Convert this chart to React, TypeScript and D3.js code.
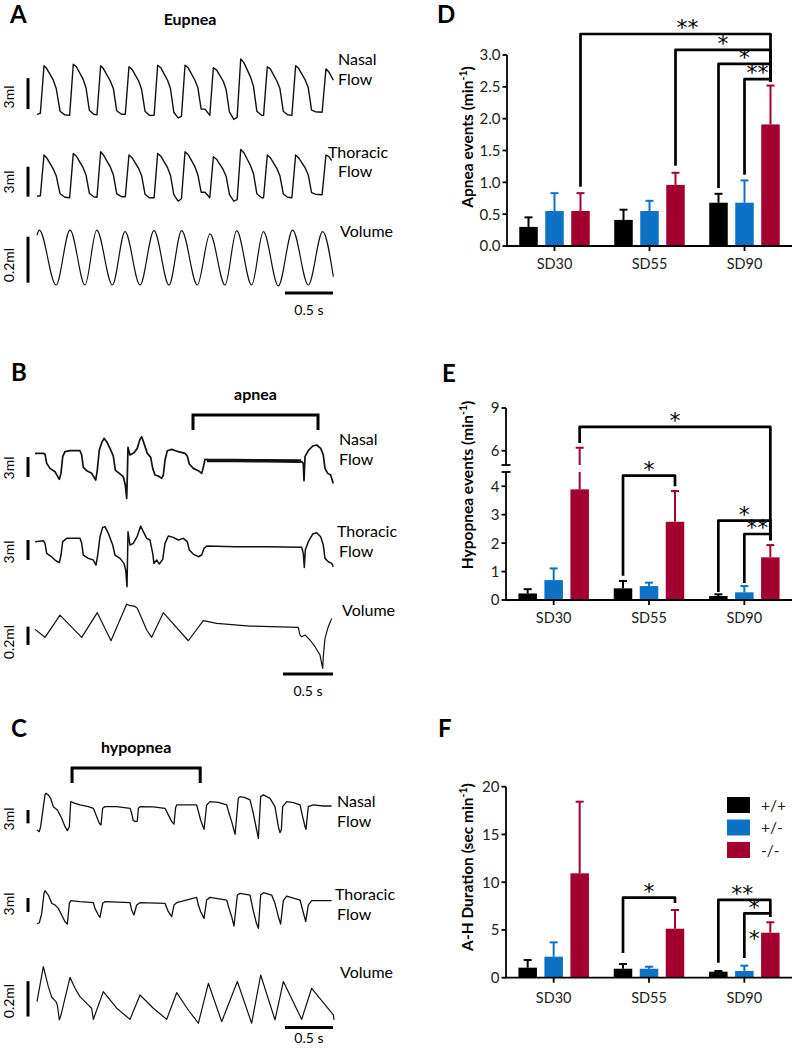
import React from 'react';
import * as d3 from 'd3';

type Pt = [number, number];
const FONT = 'Lato, "Open Sans", "DejaVu Sans", sans-serif';
const STAR_FONT = '"DejaVu Sans", Lato, sans-serif';
const INK = '#111111';
const RIGHT = 792;

// ---------------- bar chart data ----------------
const categories = ['SD30', 'SD55', 'SD90'];
const genotypes = ['+/+', '+/-', '-/-'];
const genotypeColors = ['#000000', '#0b72c6', '#a4002f'];

// [category][genotype]
const apneaMean = [
  [0.30, 0.55, 0.55],
  [0.41, 0.55, 0.96],
  [0.68, 0.68, 1.91],
];
const apneaSem = [
  [0.15, 0.28, 0.28],
  [0.16, 0.16, 0.19],
  [0.14, 0.35, 0.61],
];
const hypopneaMean = [
  [0.23, 0.70, 3.89],
  [0.41, 0.49, 2.75],
  [0.14, 0.27, 1.50],
];
const hypopneaSem = [
  [0.15, 0.41, 2.32],
  [0.26, 0.12, 1.08],
  [0.06, 0.22, 0.43],
];
const durationMean = [
  [1.05, 2.2, 10.93],
  [0.94, 0.94, 5.13],
  [0.63, 0.70, 4.71],
];
const durationSem = [
  [0.8, 1.5, 7.5],
  [0.49, 0.21, 1.96],
  [0.07, 0.56, 1.09],
];

const apneaTicks = [0, 0.5, 1, 1.5, 2, 2.5, 3];
const hypopneaTicks = [0, 1, 2, 3, 4, 6, 9];
const durationTicks = [0, 5, 10, 15, 20];

interface Bracket { from: [number, number]; to: [number, number]; level: number; leftEnd: number; rightEnd: number; label: string; }

const apneaBrackets: Bracket[] = [
  { from: [0, 2], to: [2, 2], level: 3.33, leftEnd: 0.93, rightEnd: 2.58, label: '**' },
  { from: [1, 2], to: [2, 2], level: 3.08, leftEnd: 1.26, rightEnd: 2.58, label: '*' },
  { from: [2, 0], to: [2, 2], level: 2.86, leftEnd: 0.91, rightEnd: 2.58, label: '*' },
  { from: [2, 1], to: [2, 2], level: 2.62, leftEnd: 1.12, rightEnd: 2.58, label: '**' },
];
const hypopneaBrackets: Bracket[] = [
  { from: [0, 2], to: [2, 2], level: 7.67, leftEnd: 6.54, rightEnd: 2.1, label: '*' },
  { from: [1, 0], to: [1, 2], level: 4.37, leftEnd: 0.85, rightEnd: 4.0, label: '*' },
  { from: [2, 0], to: [2, 2], level: 2.79, leftEnd: 0.28, rightEnd: 2.1, label: '*' },
  { from: [2, 1], to: [2, 2], level: 2.32, leftEnd: 0.6, rightEnd: 2.1, label: '**' },
];
const durationBrackets: Bracket[] = [
  { from: [1, 0], to: [1, 2], level: 8.38, leftEnd: 2.59, rightEnd: 7.82, label: '*' },
  { from: [2, 0], to: [2, 2], level: 8.14, leftEnd: 1.57, rightEnd: 6.77, label: '**' },
  { from: [2, 1], to: [2, 2], level: 6.74, leftEnd: 2.06, rightEnd: 6.36, label: '*' },
];
// lone significance mark next to the SD90 -/- bar in F: [category, genotype, value, label]
const durationMarks: [number, number, number, string][] = [[2, 2, 4.2, '*']];

// ---------------- trace data (time s, value) ----------------
const eupneaNasal: Pt[] = [
  [0.0, 0.0],
  [0.035, 0.1], [0.073, 4.7], [0.10, 4.45], [0.17, 3.3], [0.20, 2.5], [0.24, 0.3], [0.29, -0.05],
  [0.34, -0.1], [0.378, 4.85], [0.41, 4.6], [0.48, 3.4], [0.51, 2.6], [0.545, 0.4], [0.59, 0.0],
  [0.625, -0.05], [0.663, 4.7], [0.69, 4.45], [0.765, 3.2], [0.795, 2.5], [0.83, 0.35], [0.88, 0.0],
  [0.92, 0.0], [0.958, 4.6], [0.99, 4.35], [1.06, 3.2], [1.09, 2.4], [1.125, 0.3], [1.17, -0.1],
  [1.22, -0.1], [1.257, 4.75], [1.29, 4.5], [1.36, 3.3], [1.39, 2.5], [1.425, 0.2], [1.47, -0.35],
  [1.505, -0.2], [1.542, 4.75], [1.575, 4.5], [1.645, 3.3], [1.675, 2.6], [1.71, 0.5], [1.75, 0.5],
  [1.80, -0.1], [1.837, 4.5], [1.87, 4.3], [1.94, 3.2], [1.97, 2.4], [2.005, 0.2], [2.05, -0.5],
  [2.085, -0.3], [2.122, 5.35], [2.155, 5.0], [2.225, 3.6], [2.255, 2.7], [2.29, 0.3], [2.34, -0.1],
  [2.36, -0.1], [2.399, 4.6], [2.43, 4.4], [2.50, 3.2], [2.53, 2.5], [2.565, 0.3], [2.61, -0.05],
  [2.655, -0.1], [2.694, 4.7], [2.725, 4.45], [2.795, 3.3], [2.825, 2.6], [2.86, 0.4], [2.90, 0.25],
  [2.97, 0.2], [3.01, 4.4], [3.04, 4.1], [3.087, 3.3],
];
const eupneaThoracic: Pt[] = [
  [0.0, 0.05],
  [0.035, 0.1], [0.073, 4.17], [0.10, 3.9], [0.17, 2.75], [0.20, 2.1], [0.24, 0.3], [0.29, -0.05],
  [0.34, -0.1], [0.378, 4.33], [0.41, 4.05], [0.48, 2.9], [0.51, 2.2], [0.545, 0.35], [0.59, 0.0],
  [0.625, -0.05], [0.663, 4.5], [0.69, 4.2], [0.765, 2.95], [0.795, 2.2], [0.83, 0.3], [0.88, 0.0],
  [0.92, 0.0], [0.958, 4.17], [0.99, 3.9], [1.06, 2.8], [1.09, 2.1], [1.125, 0.25], [1.17, -0.1],
  [1.22, -0.1], [1.257, 4.33], [1.29, 4.05], [1.36, 2.9], [1.39, 2.15], [1.425, 0.2], [1.47, -0.45],
  [1.505, -0.2], [1.542, 4.5], [1.575, 4.2], [1.645, 3.0], [1.675, 2.2], [1.71, 0.45], [1.75, 0.45],
  [1.80, -0.1], [1.837, 4.0], [1.87, 3.75], [1.94, 2.7], [1.97, 2.05], [2.005, 0.2], [2.05, -0.45],
  [2.085, -0.3], [2.122, 4.73], [2.155, 4.4], [2.225, 3.1], [2.255, 2.3], [2.29, 0.3], [2.34, -0.1],
  [2.36, -0.1], [2.399, 4.17], [2.43, 3.9], [2.50, 2.8], [2.53, 2.1], [2.565, 0.3], [2.61, -0.05],
  [2.655, -0.1], [2.694, 4.17], [2.725, 3.9], [2.795, 2.85], [2.825, 2.2], [2.86, 0.4], [2.90, 0.25],
  [2.97, 0.2], [3.01, 4.17], [3.04, 4.0], [3.07, 3.6],
];
const eupneaVolume: Pt[] = [
  [0, 0.217], [0.024, 0.239], [0.198, 0], [0.344, 0.239], [0.5, 0], [0.622, 0.239], [0.785, 0],
  [0.917, 0.232], [1.073, 0], [1.219, 0.236], [1.375, 0], [1.507, 0.236], [1.670, 0], [1.802, 0.222],
  [1.958, 0], [2.080, 0.236], [2.236, 0], [2.358, 0.232], [2.514, -0.004], [2.663, 0.239], [2.826, 0],
  [2.976, 0.232], [3.087, 0.036],
];

const apneaNasal: Pt[] = [
  [0, 1.1], [0.083, 1.1], [0.1, 1.0], [0.117, -0.4], [0.15, -1.15], [0.2, -1.65], [0.243, -2.8], [0.26, -1.9],
  [0.277, 0.6], [0.3, 1.35], [0.35, 1.5], [0.45, 1.5], [0.467, 0.85], [0.483, -1.0], [0.517, -1.5], [0.567, -1.9],
  [0.607, -2.9], [0.623, -1.4], [0.643, 1.6], [0.667, 2.7], [0.69, 3.35], [0.717, 2.85], [0.75, 1.85], [0.783, 0.7],
  [0.803, -1.4], [0.843, -1.9], [0.883, -2.4], [0.903, -3.65], [0.917, -5.65], [0.923, -2.4], [0.93, 2.0], [0.95, 0.85],
  [0.99, 1.2], [1.023, 1.85], [1.05, 3.2], [1.067, 3.6], [1.09, 2.6], [1.123, 1.1], [1.157, 0.5], [1.177, -1.15],
  [1.2, -2.15], [1.233, -2.3], [1.267, -2.65], [1.283, -2.15], [1.3, 0.1], [1.323, 1.5], [1.367, 1.7], [1.433, 1.35],
  [1.5, 1.1], [1.523, 0.7], [1.543, -0.5], [1.583, -1.15], [1.633, -1.5], [1.667, -1.9], [1.683, -1.0], [1.7, 0.2],
  [1.75, 0.1], [2.0, 0.05], [2.3, 0.0], [2.667, -0.15], [2.683, -0.4], [2.69, -3.0], [2.7, 0.6], [2.733, 1.5],
  [2.777, 2.2], [2.817, 2.35], [2.857, 1.85], [2.883, 0.85], [2.9, -1.15], [2.927, -1.9], [2.957, -2.15], [2.97, -2.8],
  [2.983, -3.4],
];
// noise envelope of nasal flow during the apnea: [t, low, high]
const apneaNasalNoise: [number, number, number][] = [
  [1.72, -0.25, 0.3], [2.0, -0.25, 0.28], [2.3, -0.28, 0.25], [2.66, -0.35, 0.2],
];
const apneaThoracic: Pt[] = [
  [0, 0.75], [0.083, 0.9], [0.1, 0.5], [0.117, -1.0], [0.157, -1.4], [0.2, -2.0], [0.243, -2.4], [0.26, -1.25],
  [0.277, 0.75], [0.317, 1.25], [0.45, 1.25], [0.467, 0.5], [0.483, -1.25], [0.533, -1.75], [0.583, -2.0], [0.61, -2.75],
  [0.627, -1.25], [0.65, 1.5], [0.677, 2.9], [0.7, 3.0], [0.733, 2.0], [0.777, 0.25], [0.8, -1.25], [0.85, -1.75],
  [0.89, -2.5], [0.907, -3.5], [0.92, -6.0], [0.927, -0.25], [0.93, 2.25], [0.95, 0.25], [0.983, 0.5], [1.023, 1.6],
  [1.057, 3.1], [1.083, 2.25], [1.117, 1.25], [1.15, 1.0], [1.177, -1.0], [1.19, -2.5], [1.217, -2.0], [1.243, -2.6],
  [1.277, -1.9], [1.3, 0.5], [1.333, 1.6], [1.383, 1.4], [1.433, 1.0], [1.483, 1.25], [1.523, 0.75], [1.543, -0.5],
  [1.583, -1.1], [1.633, -1.5], [1.667, -1.25], [1.69, -0.25], [1.717, 0.1], [2.0, 0.0], [2.3, 0.0], [2.667, -0.1],
  [2.683, -1.0], [2.693, -3.1], [2.703, -0.5], [2.733, 0.75], [2.777, 1.9], [2.817, 2.1], [2.857, 1.5], [2.883, 0.25],
  [2.9, -1.75], [2.933, -2.25], [2.967, -2.5], [2.983, -3.0],
];
const apneaVolume: Pt[] = [
  [0, 0.08], [0.1, -0.007], [0.25, 0.236], [0.467, -0.007], [0.623, 0.262], [0.76, -0.044], [0.917, 0.356],
  [0.933, 0.345], [1.0, 0.33], [1.023, 0.31], [1.067, 0.2], [1.117, 0.073], [1.167, -0.007], [1.283, 0.262],
  [1.533, -0.044], [1.683, 0.175], [1.817, 0.145], [2.15, 0.116], [2.633, 0.102], [2.65, 0.018], [2.667, 0.0],
  [2.70, 0.018], [2.75, -0.036], [2.80, -0.109], [2.85, -0.2], [2.877, -0.345], [2.883, -0.218], [2.90, -0.018],
  [2.933, 0.109], [2.967, 0.2],
];

const hypopneaNasal: Pt[] = [
  [0, 0], [0.024, -0.38], [0.038, 0.75], [0.083, 7.9], [0.094, 8.27], [0.118, 7.9], [0.142, 7.14], [0.170, 5.26],
  [0.212, 4.51], [0.257, 2.63], [0.292, 0.75], [0.316, -0.15],
  [0.337, 0.75], [0.351, 6.39], [0.396, 6.02], [0.448, 5.64], [0.535, 5.26], [0.587, 4.89], [0.622, 3.0], [0.649, 1.5], [0.667, 1.13],
  [0.684, 4.89], [0.708, 5.26], [0.830, 5.26], [0.969, 4.89], [0.986, 3.76], [1.003, 2.1], [1.031, 1.9], [1.045, 2.0],
  [1.056, 4.89], [1.073, 5.26], [1.212, 5.2], [1.333, 4.89], [1.368, 3.4], [1.403, 1.88], [1.427, 1.35],
  [1.444, 5.0], [1.455, 5.64], [1.559, 5.64], [1.663, 5.64], [1.681, 4.2], [1.705, 2.2], [1.740, 0.15],
  [1.767, 5.64], [1.802, 6.39], [1.889, 6.2], [1.976, 5.64], [2.0, 3.76], [2.028, 1.88], [2.063, -0.98],
  [2.097, 7.14], [2.115, 7.52], [2.167, 7.3], [2.219, 6.77], [2.253, 3.76], [2.288, 0], [2.306, -1.88],
  [2.330, 7.52], [2.358, 7.9], [2.427, 7.14], [2.479, 5.26], [2.514, 0.75], [2.531, -0.6], [2.545, 0],
  [2.559, 5.26], [2.601, 6.39], [2.670, 6.17], [2.740, 5.64], [2.767, 3.0], [2.792, 0.75], [2.802, 0.15],
  [2.826, 5.26], [2.878, 5.64], [2.983, 5.41], [3.069, 5.41],
];
const hypopneaThoracic: Pt[] = [
  [0, -1.57], [0.024, -1.29], [0.049, 0.71], [0.073, 5.0], [0.083, 5.57], [0.118, 4.64], [0.153, 2.86], [0.188, 2.5],
  [0.222, 1.79], [0.257, 0.36], [0.292, -1.07], [0.316, -1.57],
  [0.337, 2.86], [0.351, 3.43], [0.448, 3.21], [0.587, 3.0], [0.604, 1.79], [0.639, 0.36], [0.656, -0.14],
  [0.684, 2.86], [0.708, 3.21], [0.969, 3.0], [0.986, 1.43], [1.010, 0.36],
  [1.038, 2.5], [1.073, 3.0], [1.333, 2.86], [1.368, 1.07], [1.403, 0],
  [1.427, 2.5], [1.455, 3.0], [1.663, 4.14], [1.681, 2.5], [1.705, 1.07], [1.740, -0.36],
  [1.767, 3.57], [1.802, 4.14], [1.976, 3.57], [2.0, 1.79], [2.028, 0], [2.052, -2.0],
  [2.087, 4.64], [2.115, 5.0], [2.219, 4.64], [2.247, 1.79], [2.281, -1.07], [2.306, -2.5],
  [2.330, 4.64], [2.358, 5.14], [2.444, 4.64], [2.479, 2.86], [2.514, 0], [2.538, -1.57],
  [2.566, 3.43], [2.601, 4.43], [2.740, 3.57], [2.767, 1.43], [2.799, -1.07],
  [2.826, 2.5], [2.861, 3.43], [3.069, 3.43],
];
const hypopneaVolume: Pt[] = [
  [0, 0.094], [0.066, 0.292], [0.118, 0.179], [0.153, 0.119], [0.198, 0.094], [0.212, 0.075], [0.233, -0.009],
  [0.25, 0.019], [0.344, 0.232], [0.396, 0.17], [0.448, 0.123], [0.535, 0.075], [0.569, 0.057], [0.587, -0.006],
  [0.691, 0.151], [0.83, 0.057], [0.969, -0.006], [1.073, 0.132], [1.212, 0.057], [1.351, -0.006], [1.455, 0.145],
  [1.576, 0.047], [1.681, -0.028], [1.785, 0.198], [1.924, -0.019], [2.087, 0.208], [2.236, -0.028], [2.33, 0.245],
  [2.479, -0.009], [2.566, 0.208], [2.757, -0.006], [2.861, 0.17], [3.087, 0.019], [3.094, -0.009],
];

const apneaInterval: [number, number] = [1.58, 2.83];
const hypopneaInterval: [number, number] = [0.365, 1.70];
const timeBarA: [number, number] = [2.583, 3.083];
const timeBarB: [number, number] = [2.48, 2.98];
const timeBarC: [number, number] = [2.583, 3.083];

// ---------------- components ----------------
interface Row {
  data: Pt[]; zeroY: number; ppu: number; bar: [number, number]; barLabel: string; barLabelCY: number;
  names: [string, number, number][]; curve?: any; sw?: number;
}

function TraceBlock({ x, rows, timeBar, timeBarY, timeLabelDy = 22, extra }: { x: any; rows: Row[]; timeBar: [number, number]; timeBarY: number; timeLabelDy?: number; extra?: (ys: any[]) => any }) {
  const ys = rows.map(r => d3.scaleLinear().domain([0, 1]).range([r.zeroY, r.zeroY - r.ppu]));
  return (
    <g>
      {rows.map((r, i) => {
        const y = ys[i];
        const line = d3.line<Pt>().x(d => x(d[0])).y(d => y(d[1])).curve(r.curve ?? d3.curveLinear);
        return (
          <g key={i}>
            <path d={line(r.data) || ''} fill="none" stroke={INK} strokeWidth={r.sw ?? 1.4} strokeLinejoin="round" />
            <line x1={28} x2={28} y1={y(r.bar[0])} y2={y(r.bar[1])} stroke="#000" strokeWidth={3} />
            <text transform={`translate(14, ${r.barLabelCY}) rotate(-90)`} textAnchor="middle" fontSize={14}>{r.barLabel}</text>
            {r.names.map(([t, tx, ty], k) => (
              <text key={k} x={tx} y={ty} fontSize={16}>{t}</text>
            ))}
          </g>
        );
      })}
      {extra ? extra(ys) : null}
      <line x1={x(timeBar[0])} x2={x(timeBar[1])} y1={timeBarY} y2={timeBarY} stroke="#000" strokeWidth={3} />
      <text x={(x(timeBar[0]) + x(timeBar[1])) / 2} y={timeBarY + timeLabelDy} textAnchor="middle" fontSize={14}>0.5 s</text>
    </g>
  );
}

function EventBracket({ x, interval, y, legY, label, labelY }: any) {
  const x1 = x(interval[0]);
  const x2 = x(interval[1]);
  return (
    <g>
      <path d={`M${x1},${legY}V${y}H${x2}V${legY}`} fill="none" stroke="#000" strokeWidth={3} />
      <text x={(x1 + x2) / 2} y={labelY} textAnchor="middle" fontSize={16} fontWeight={700}>{label}</text>
    </g>
  );
}

interface BarProps {
  means: number[][]; sems: number[][]; y: any; ticks: number[]; fmt: (v: number) => string;
  axisX: number; yMax: number; ylabel: string; ylabelCY: number; catBaseline: number;
  brackets: Bracket[]; labelDx?: number[]; breakLo?: number; breakHi?: number;
  marks?: [number, number, number, string][]; legend?: boolean;
}

const STAR_SIZE = 22;
const STAR_LIFT = 7.5; // star centre above bracket line
const STAR_CENTER = 8.8; // glyph centre above baseline at STAR_SIZE

function BarPanel(p: BarProps) {
  const { means, sems, y, ticks, fmt, axisX, yMax, ylabel, ylabelCY, catBaseline, brackets, labelDx = [], breakLo, breakHi, marks = [], legend } = p;
  const x0 = d3.scaleBand<string>().domain(categories).range([axisX, RIGHT]).padding(0);
  const x1 = d3.scaleBand<string>().domain(genotypes).range([-35.25, 35.25]).paddingInner(0.288).paddingOuter(0);
  const gc = (g: number) => (x0(categories[g]) as number) + x0.bandwidth() / 2;
  const cx = (g: number, s: number) => gc(g) + (x1(genotypes[s]) as number) + x1.bandwidth() / 2;
  const base = y(0);
  const hasBreak = breakLo !== undefined && breakHi !== undefined;
  const bw = x1.bandwidth();

  return (
    <g>
      {means.map((row, g) => row.map((m, s) => {
        const c = cx(g, s);
        const top = m + sems[g][s];
        const segs: [number, number][] = hasBreak && m < (breakLo as number) && top > (breakHi as number)
          ? [[m, breakLo as number], [breakHi as number, top]] : [[m, top]];
        return (
          <g key={`${g}-${s}`}>
            <rect x={c - bw / 2} y={y(m)} width={bw} height={base - y(m)} fill={genotypeColors[s]} />
            {segs.map((sg, k) => (
              <line key={k} x1={c} x2={c} y1={y(sg[0])} y2={y(sg[1])} stroke={genotypeColors[s]} strokeWidth={2} />
            ))}
            <line x1={c - 4} x2={c + 4} y1={y(top)} y2={y(top)} stroke={genotypeColors[s]} strokeWidth={2} />
          </g>
        );
      }))}
      {hasBreak ? (
        <g stroke="#000" strokeWidth={1.8}>
          <line x1={axisX} x2={axisX} y1={base} y2={y(breakLo)} />
          <line x1={axisX} x2={axisX} y1={y(breakHi)} y2={y(yMax)} />
          <line x1={axisX - 4.5} x2={axisX + 4.5} y1={y(breakLo)} y2={y(breakLo)} />
          <line x1={axisX - 4.5} x2={axisX + 4.5} y1={y(breakHi)} y2={y(breakHi)} />
        </g>
      ) : (
        <line x1={axisX} x2={axisX} y1={base} y2={y(yMax)} stroke="#000" strokeWidth={1.8} />
      )}
      <line x1={axisX - 0.9} x2={RIGHT} y1={base} y2={base} stroke="#000" strokeWidth={1.8} />
      {ticks.map(t => (
        <g key={t}>
          <line x1={axisX - 4.5} x2={axisX} y1={y(t)} y2={y(t)} stroke="#000" strokeWidth={1.8} />
          <text x={axisX - 6.5} y={y(t)} dy="0.36em" textAnchor="end" fontSize={15} fill="#222">{fmt(t)}</text>
        </g>
      ))}
      {categories.map((c, g) => (
        <g key={c}>
          <line x1={gc(g)} x2={gc(g)} y1={base} y2={base + 5} stroke="#000" strokeWidth={1.8} />
          <text x={gc(g)} y={catBaseline} textAnchor="middle" fontSize={14.5} fill="#222">{c}</text>
        </g>
      ))}
      <text transform={`translate(473, ${ylabelCY}) rotate(-90)`} textAnchor="middle" fontSize={15.5} fontWeight={700}>
        {ylabel}<tspan dy={-6} fontSize={10.5}>-1</tspan><tspan dy={6}>)</tspan>
      </text>
      {brackets.map((b, i) => {
        const xa = cx(b.from[0], b.from[1]);
        const xb = cx(b.to[0], b.to[1]);
        const ly = y(b.level);
        return (
          <g key={i}>
            <path d={`M${xa},${y(b.leftEnd)}V${ly}H${xb}V${y(b.rightEnd)}`} fill="none" stroke="#000" strokeWidth={2.7} strokeLinejoin="round" />
            <text x={(xa + xb) / 2 + (labelDx[i] || 0)} y={ly - STAR_LIFT + STAR_CENTER} textAnchor="middle" fontSize={STAR_SIZE} fontFamily={STAR_FONT}>{b.label}</text>
          </g>
        );
      })}
      {marks.map(([g, s, v, lab], i) => (
        <text key={i} x={cx(g, s) - 16} y={y(v) + STAR_CENTER} textAnchor="middle" fontSize={STAR_SIZE} fontFamily={STAR_FONT}>{lab}</text>
      ))}
      {legend ? (
        <g>
          {genotypes.map((gname, s) => (
            <g key={gname}>
              <rect x={727} y={797 + s * 22.5} width={23} height={16} fill={genotypeColors[s]} />
              <text x={761} y={797 + s * 22.5 + 8} dy="0.36em" fontSize={15.5} fill="#222">{gname}</text>
            </g>
          ))}
        </g>
      ) : null}
    </g>
  );
}

export default function App() {
  const xA = d3.scaleLinear().domain([0, 3.1]).range([37, 37 + 3.1 * 96]);
  const xB = d3.scaleLinear().domain([0, 3]).range([35, 335]);
  const xC = d3.scaleLinear().domain([0, 3.1]).range([37, 37 + 3.1 * 96]);

  const yD = d3.scaleLinear().domain([0, 3]).range([246, 55]);
  const yE = d3.scaleLinear().domain([0, 4.5, 5, 9]).range([600, 472, 465, 408]);
  const yF = d3.scaleLinear().domain([0, 20]).range([977.7, 786.7]);

  const noiseArea = (x: any) => (ys: any[]) => {
    const yN = ys[0];
    const area = d3.area<[number, number, number]>().x(d => x(d[0])).y0(d => yN(d[1])).y1(d => yN(d[2]));
    return <path d={area(apneaNasalNoise) || ''} fill={INK} />;
  };

  return (
    <svg width={795} height={1050} style={{ position: 'absolute', left: 0, top: 0, background: '#fff' }} fontFamily={FONT}>
      <rect width={795} height={1050} fill="#fff" />

      <g fontSize={24} fontWeight={700}>
        <text x={10} y={23}>A</text>
        <text x={11} y={381}>B</text>
        <text x={11} y={737}>C</text>
        <text x={437} y={23}>D</text>
        <text x={442} y={382}>E</text>
        <text x={438} y={737}>F</text>
      </g>

      {/* A: eupnea */}
      <text x={190} y={25} textAnchor="middle" fontSize={16} fontWeight={700}>Eupnea</text>
      <TraceBlock
        x={xA}
        timeBar={timeBarA}
        timeBarY={293}
        rows={[
          { data: eupneaNasal, zeroY: 114.3, ppu: 10.33, bar: [0.5, 3.5], barLabel: '3ml', barLabelCY: 97, names: [['Nasal', 338, 65], ['Flow', 338, 85]] },
          { data: eupneaThoracic, zeroY: 196.7, ppu: 10, bar: [0, 3], barLabel: '3ml', barLabelCY: 182, names: [['Thoracic', 328, 158], ['Flow', 338, 177]] },
          { data: eupneaVolume, zeroY: 285, ppu: 230, bar: [0.01, 0.21], barLabel: '0.2ml', barLabelCY: 265, names: [['Volume', 340, 237]], curve: d3.curveMonotoneX, sw: 1.2 },
        ]}
      />

      {/* B: apnea */}
      <EventBracket x={xB} interval={apneaInterval} y={415} legY={430} label="apnea" labelY={400} />
      <TraceBlock
        x={xB}
        timeBar={timeBarB}
        timeBarY={674}
        extra={noiseArea(xB)}
        rows={[
          { data: apneaNasal, zeroY: 460.7, ppu: 6.67, bar: [-2.45, 0.55], barLabel: '3ml', barLabelCY: 468, names: [['Nasal', 339, 445], ['Flow', 339, 465]], sw: 1.7 },
          { data: apneaThoracic, zeroY: 546.7, ppu: 6.67, bar: [-2, 1], barLabel: '3ml', barLabelCY: 552, names: [['Thoracic', 337, 537], ['Flow', 339, 557]], sw: 1.5 },
          { data: apneaVolume, zeroY: 636.7, ppu: 91.7, bar: [-0.09, 0.11], barLabel: '0.2ml', barLabelCY: 642, names: [['Volume', 342, 616]], sw: 1.2 },
        ]}
      />

      {/* C: hypopnea */}
      <EventBracket x={xC} interval={hypopneaInterval} y={768} legY={783} label="hypopnea" labelY={753} />
      <TraceBlock
        x={xC}
        timeBar={timeBarC}
        timeBarY={1027.5}
        timeLabelDy={15}
        rows={[
          { data: hypopneaNasal, zeroY: 830, ppu: 4.44, bar: [1.5, 4.5], barLabel: '3ml', barLabelCY: 819, names: [['Nasal', 337, 807], ['Flow', 337, 827]], sw: 1.3 },
          { data: hypopneaThoracic, zeroY: 916.7, ppu: 4.67, bar: [1, 4], barLabel: '3ml', barLabelCY: 904, names: [['Thoracic', 335, 900], ['Flow', 337, 920]], sw: 1.3 },
          { data: hypopneaVolume, zeroY: 1018.3, ppu: 176.7, bar: [0.01, 0.21], barLabel: '0.2ml', barLabelCY: 1001, names: [['Volume', 340, 978]], sw: 1.2 },
        ]}
      />

      <BarPanel
        means={apneaMean} sems={apneaSem} y={yD} ticks={apneaTicks} fmt={d3.format('.1f')}
        axisX={507} yMax={3} ylabel="Apnea events (min" ylabelCY={137} catBaseline={269}
        brackets={apneaBrackets} labelDx={[12, 0, 0, 0]}
      />
      <BarPanel
        means={hypopneaMean} sems={hypopneaSem} y={yE} ticks={hypopneaTicks} fmt={d3.format('d')}
        axisX={506} yMax={9} ylabel="Hypopnea events (min" ylabelCY={485} catBaseline={623}
        brackets={hypopneaBrackets} breakLo={4.5} breakHi={5}
      />
      <BarPanel
        means={durationMean} sems={durationSem} y={yF} ticks={durationTicks} fmt={d3.format('d')}
        axisX={506} yMax={20} ylabel="A-H Duration (sec min" ylabelCY={867} catBaseline={1003}
        brackets={durationBrackets} labelDx={[0, -2, -3]} marks={durationMarks} legend
      />
    </svg>
  );
}
